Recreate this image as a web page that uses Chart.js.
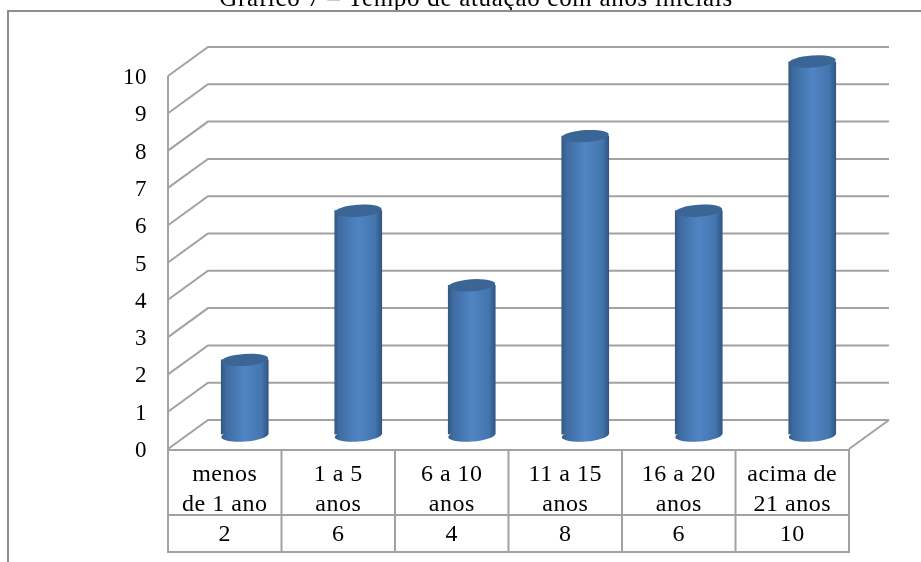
<!DOCTYPE html>
<html>
<head>
<meta charset="utf-8">
<style>html,body{margin:0;padding:0;background:#fff;overflow:hidden}canvas{display:block}</style>
<script src="https://cdn.jsdelivr.net/npm/chart.js@4"></script>
</head>
<body>
<canvas id="c" width="921" height="562"></canvas>
<script>
const categories = [["menos","de 1 ano"],["1 a 5","anos"],["6 a 10","anos"],["11 a 15","anos"],["16 a 20","anos"],["acima de","21 anos"]];
const values = [2,6,4,8,6,10];
const titleText = "Gráfico 7 – Tempo de atuação com anos iniciais";
const DX = 40, DY = -29, LINE = "#a2a2a2", SERIF = '"Liberation Serif"', BAR = 47;

function shade(ctx, cx) {
  if (!Number.isFinite(cx)) return "#4f81bd";
  const g = ctx.createLinearGradient(cx-BAR/2,0,cx+BAR/2,0);
  g.addColorStop(0,"#34597f"); g.addColorStop(.1,"#3e6ca1"); g.addColorStop(.5,"#5084c4"); g.addColorStop(.86,"#4375ae"); g.addColorStop(1,"#315684");
  return g;
}

const scene = {
  id: "scene",
  beforeDraw(chart) {
    const ctx = chart.ctx, {left, right, top, bottom} = chart.chartArea, y = chart.scales.y, x = chart.scales.x;
    ctx.save();
    ctx.fillStyle = "#fff"; ctx.fillRect(0,0,chart.width,chart.height);
    ctx.fillStyle = "#000"; ctx.font = "25px " + SERIF; ctx.textAlign = "center"; ctx.textBaseline = "alphabetic";
    ctx.letterSpacing = "0.7px";
    ctx.fillText(titleText, 476, 6);
    ctx.letterSpacing = "0.5px";
    ctx.fillStyle = "#fff"; ctx.fillRect(0,10,chart.width,3);
    ctx.strokeStyle = "#8e8e8e"; ctx.lineWidth = 2;
    ctx.beginPath(); ctx.moveTo(8,562); ctx.lineTo(8,11); ctx.lineTo(921,11); ctx.stroke();
    ctx.strokeStyle = LINE; ctx.lineWidth = 2;
    y.ticks.forEach(t => {
      const py = y.getPixelForValue(t.value);
      ctx.beginPath(); ctx.moveTo(left,py); ctx.lineTo(left+DX,py+DY); ctx.lineTo(right+DX,py+DY); ctx.stroke();
    });
    ctx.beginPath(); ctx.moveTo(left,top); ctx.lineTo(left,bottom); ctx.stroke();
    ctx.beginPath(); ctx.moveTo(right+DX,bottom+DY); ctx.lineTo(right,bottom); ctx.stroke();
    // data table
    const row1 = 515, row2 = 552, cell = (right-left)/categories.length;
    ctx.beginPath();
    [bottom+1,row1,row2].forEach(v => {ctx.moveTo(left-1,v); ctx.lineTo(right+1,v);});
    for (let i=0;i<=categories.length;i++){ctx.moveTo(left+i*cell,bottom+1); ctx.lineTo(left+i*cell,row2);}
    ctx.stroke();
    ctx.fillStyle = "#000"; ctx.font = "24px " + SERIF; ctx.textBaseline = "middle";
    values.forEach((v,i) => ctx.fillText(String(v), x.getPixelForValue(i), 535));
    ctx.restore();
    ctx.letterSpacing = "0.5px";
  },
  beforeDatasetsDraw(chart) {
    const ctx = chart.ctx, m = chart.getDatasetMeta(0);
    ctx.save(); ctx.translate(DX/2, DY/2);
    m.data.forEach(b => {
      ctx.fillStyle = shade(ctx, b.x);
      ctx.beginPath(); ctx.ellipse(b.x, b.base+1, b.width/2, 6, -0.07, 0, Math.PI*2); ctx.fill();
    });
  },
  afterDatasetsDraw(chart) {
    const ctx = chart.ctx, m = chart.getDatasetMeta(0);
    m.data.forEach(b => {
      ctx.fillStyle = "#3b6595";
      ctx.beginPath(); ctx.ellipse(b.x, b.y, b.width/2, 6, -0.07, 0, Math.PI*2); ctx.fill();
    });
    ctx.restore();
  }
};

new Chart(document.getElementById("c"), {
  type: "bar",
  data: { labels: categories, datasets: [{
    data: values, barThickness: BAR,
    backgroundColor(c) { return shade(c.chart.ctx, c.chart.scales.x ? c.chart.scales.x.getPixelForValue(c.dataIndex) : NaN); }
  }]},
  options: {
    responsive: false, animation: false,
    layout: { padding: { top: 76, right: 72, left: 0, bottom: 0 } },
    plugins: { legend: {display:false}, title: {display:false}, tooltip: {enabled:false} },
    scales: {
      x: {
        grid: {display:false}, border: {display:false},
        ticks: { color:"#000", font:{family:"Liberation Serif", size:24, lineHeight:1.23}, padding:3, maxRotation:0, autoSkip:false },
        afterFit(s){ s.height = 113; }
      },
      y: {
        min:0, max:10,
        grid: {display:false}, border: {display:false},
        ticks: { stepSize:1, color:"#000", font:{family:"Liberation Serif", size:23}, padding:13, labelOffset:2 },
        afterFit(s){ s.width = 168; }
      }
    }
  },
  plugins: [scene]
});
</script>
</body>
</html>
